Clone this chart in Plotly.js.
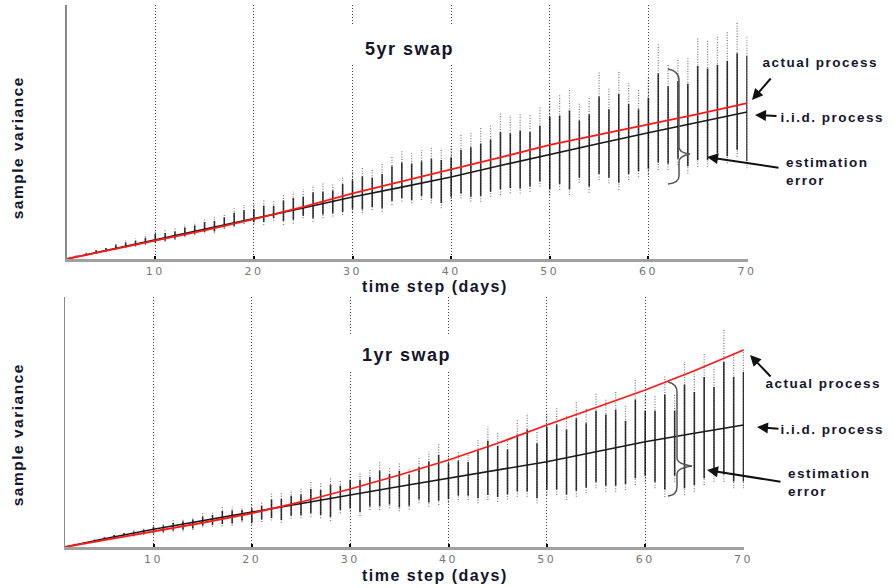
<!DOCTYPE html>
<html>
<head>
<meta charset="utf-8">
<script src="https://cdn.plot.ly/plotly-3.0.1.min.js"></script>
<style>
html,body{margin:0;padding:0;background:#fff;}
#chart{width:893px;height:588px;}
#chart .annotation-text{letter-spacing:1.5px;}
#chart .xtick text, #chart .x2tick text{letter-spacing:2.5px;}
</style>
</head>
<body>
<div id="chart"></div>
<script>
// ---------- DATA ----------
const days = [2,3,4,5,6,7,8,9,10,11,12,13,14,15,16,17,18,19,20,21,22,23,24,25,26,27,28,29,30,31,32,33,34,35,36,37,38,39,40,41,42,43,44,45,46,47,48,49,50,51,52,53,54,55,56,57,58,59,60,61,62,63,64,65,66,67,68,69,70];
const tickDays = [10,20,30,40,50,60,70];
const lineDays = [1,5,10,15,20,25,30,35,40,45,50,55,60,65,70];

// 5yr swap
const iid5 = [0,0.034,0.076,0.118,0.159,0.201,0.244,0.283,0.323,0.368,0.413,0.455,0.497,0.538,0.579];
const act5 = [0,0.032,0.072,0.113,0.157,0.205,0.258,0.305,0.350,0.400,0.449,0.490,0.528,0.570,0.614];
const lo5 = [0.006,0.012,0.020,0.028,0.035,0.042,0.048,0.055,0.062,0.068,0.075,0.086,0.094,0.100,0.101,0.118,0.125,0.138,0.138,0.134,0.152,0.134,0.140,0.160,0.147,0.160,0.167,0.173,0.186,0.180,0.193,0.186,0.213,0.226,0.219,0.232,0.219,0.200,0.226,0.239,0.226,0.225,0.245,0.252,0.259,0.258,0.265,0.285,0.250,0.272,0.252,0.300,0.261,0.311,0.298,0.272,0.311,0.324,0.331,0.350,0.350,0.370,0.337,0.363,0.363,0.390,0.377,0.403,0.357];
const hi5 = [0.016,0.026,0.038,0.048,0.062,0.075,0.081,0.094,0.108,0.114,0.121,0.138,0.147,0.160,0.167,0.180,0.200,0.213,0.215,0.232,0.232,0.252,0.265,0.275,0.291,0.298,0.298,0.324,0.344,0.363,0.350,0.377,0.403,0.429,0.416,0.429,0.442,0.436,0.449,0.488,0.495,0.521,0.528,0.574,0.567,0.574,0.567,0.600,0.640,0.646,0.672,0.613,0.639,0.737,0.672,0.744,0.692,0.665,0.718,0.849,0.770,0.790,0.790,0.869,0.862,0.875,0.895,0.934,0.880];
const coreLo5 = [0.008,0.015,0.023,0.031,0.038,0.045,0.052,0.060,0.066,0.072,0.080,0.091,0.099,0.106,0.108,0.124,0.130,0.145,0.145,0.146,0.160,0.150,0.155,0.170,0.160,0.175,0.180,0.185,0.198,0.195,0.205,0.200,0.228,0.240,0.232,0.248,0.238,0.220,0.245,0.258,0.245,0.248,0.265,0.275,0.280,0.278,0.285,0.305,0.275,0.295,0.275,0.320,0.285,0.335,0.320,0.300,0.335,0.345,0.355,0.380,0.375,0.395,0.365,0.390,0.390,0.415,0.405,0.430,0.385];
const coreHi5 = [0.014,0.023,0.034,0.043,0.055,0.065,0.072,0.084,0.098,0.102,0.108,0.124,0.132,0.146,0.150,0.164,0.182,0.192,0.196,0.210,0.210,0.230,0.240,0.245,0.262,0.265,0.270,0.295,0.310,0.325,0.320,0.335,0.365,0.380,0.375,0.385,0.395,0.390,0.400,0.430,0.440,0.455,0.470,0.500,0.495,0.505,0.500,0.525,0.560,0.565,0.585,0.545,0.570,0.640,0.590,0.650,0.610,0.590,0.635,0.730,0.680,0.700,0.690,0.760,0.750,0.765,0.780,0.810,0.800];

// 1yr swap
const iid1 = [0,0.033,0.071,0.106,0.140,0.174,0.208,0.242,0.275,0.308,0.341,0.381,0.421,0.455,0.488];
const act1 = [0,0.027,0.061,0.097,0.135,0.180,0.232,0.288,0.348,0.415,0.488,0.557,0.628,0.705,0.788];
const lo1 = [0.006,0.011,0.017,0.027,0.034,0.040,0.042,0.048,0.050,0.055,0.061,0.063,0.068,0.079,0.081,0.083,0.085,0.098,0.090,0.100,0.106,0.097,0.113,0.115,0.121,0.115,0.104,0.135,0.141,0.124,0.148,0.148,0.155,0.143,0.150,0.175,0.161,0.168,0.175,0.188,0.188,0.175,0.188,0.181,0.190,0.201,0.201,0.175,0.208,0.208,0.188,0.201,0.215,0.235,0.221,0.221,0.228,0.248,0.261,0.235,0.200,0.261,0.208,0.221,0.248,0.261,0.261,0.235,0.235];
const hi1 = [0.015,0.022,0.031,0.041,0.052,0.061,0.068,0.075,0.088,0.095,0.108,0.115,0.121,0.135,0.141,0.161,0.161,0.161,0.168,0.181,0.215,0.215,0.228,0.235,0.261,0.255,0.281,0.268,0.295,0.295,0.308,0.341,0.321,0.335,0.315,0.355,0.381,0.415,0.368,0.381,0.375,0.428,0.481,0.455,0.435,0.508,0.535,0.461,0.541,0.555,0.528,0.581,0.555,0.615,0.595,0.621,0.568,0.668,0.608,0.608,0.688,0.608,0.741,0.701,0.775,0.721,0.875,0.768,0.795];
const coreLo1 = [0.008,0.013,0.020,0.029,0.036,0.043,0.046,0.052,0.055,0.060,0.066,0.069,0.074,0.085,0.088,0.092,0.094,0.105,0.098,0.110,0.116,0.108,0.125,0.127,0.135,0.128,0.120,0.148,0.155,0.140,0.162,0.163,0.170,0.158,0.165,0.190,0.178,0.185,0.192,0.205,0.205,0.195,0.208,0.200,0.210,0.222,0.222,0.195,0.230,0.230,0.210,0.225,0.238,0.260,0.245,0.245,0.252,0.275,0.285,0.260,0.230,0.285,0.235,0.248,0.275,0.288,0.290,0.262,0.262];
const coreHi1 = [0.013,0.020,0.028,0.038,0.048,0.056,0.062,0.069,0.080,0.086,0.097,0.103,0.110,0.122,0.128,0.144,0.146,0.148,0.154,0.165,0.190,0.192,0.205,0.210,0.232,0.228,0.250,0.245,0.268,0.268,0.280,0.305,0.292,0.305,0.290,0.320,0.342,0.368,0.335,0.345,0.340,0.385,0.425,0.405,0.390,0.450,0.470,0.415,0.480,0.490,0.470,0.515,0.495,0.545,0.530,0.550,0.505,0.590,0.545,0.545,0.610,0.545,0.650,0.620,0.680,0.640,0.740,0.680,0.700];

// ---------- HELPERS ----------
const W = 893, H = 588;
const px = v => v / W;
const py = v => 1 - v / H;

function segs(lo, hi) {
  const x = [], y = [];
  for (let i = 0; i < days.length; i++) {
    x.push(days[i], days[i], null);
    y.push(lo[i], hi[i], null);
  }
  return {x, y};
}

function panelTraces(lo, hi, cLo, cHi, iid, act, xa, ya) {
  const s = segs(lo, hi), c = segs(cLo, cHi);
  return [
    {x: s.x, y: s.y, xaxis: xa, yaxis: ya, mode: 'lines', connectgaps: false, hoverinfo: 'skip',
     line: {color: 'rgba(0,0,0,0.5)', width: 1.3, dash: '1px,1.6px'}},
    {x: c.x, y: c.y, xaxis: xa, yaxis: ya, mode: 'lines', connectgaps: false, hoverinfo: 'skip',
     line: {color: 'rgba(0,0,0,0.78)', width: 1.6}},
    {x: lineDays, y: iid, xaxis: xa, yaxis: ya, mode: 'lines', name: 'i.i.d. process',
     line: {color: '#1a1a1a', width: 1.6}},
    {x: lineDays, y: act, xaxis: xa, yaxis: ya, mode: 'lines', name: 'actual process',
     line: {color: '#ff1a1a', width: 1.8}}
  ];
}

const data = [].concat(
  panelTraces(lo5, hi5, coreLo5, coreHi5, iid5, act5, 'x', 'y'),
  panelTraces(lo1, hi1, coreLo1, coreHi1, iid1, act1, 'x2', 'y2')
);

const xBase = {
  range: [1, 70.05], tickvals: tickDays, ticktext: tickDays.map(String),
  ticks: 'inside', ticklen: 3, tickwidth: 2, tickcolor: '#000',
  showgrid: true, griddash: '1px,2px', gridcolor: '#444', gridwidth: 1,
  showline: true, linecolor: '#a0a0a0', linewidth: 2.5, zeroline: false,
  tickfont: {family: 'DejaVu Sans', size: 11, color: '#777'}, fixedrange: true
};
const yBase = {
  range: [0, 1], showticklabels: false, ticks: '', showgrid: false, zeroline: false,
  showline: true, linecolor: '#8a8a8a', linewidth: 1.5, fixedrange: true
};

const txtFont = {family: 'Liberation Sans, Arial, sans-serif', color: '#15152a'};
function label(text, x, y, size, opts) {
  return Object.assign({text: text, xref: 'paper', yref: 'paper', x: px(x), y: py(y),
    showarrow: false, font: Object.assign({}, txtFont, {size: size}),
    xanchor: 'center', yanchor: 'middle'}, opts || {});
}
function arrow(tipX, tipY, tailX, tailY) {
  return {text: '', xref: 'paper', yref: 'paper', x: px(tipX), y: py(tipY),
    ax: tailX - tipX, ay: tailY - tipY, axref: 'pixel', ayref: 'pixel',
    showarrow: true, arrowhead: 2, arrowsize: 1.1, arrowwidth: 2, arrowcolor: '#111'};
}

const annotations = [
  label('<b>5yr swap</b>', 409, 49, 18),
  label('<b>1yr swap</b>', 406, 355, 18),
  label('<b>time step (days)</b>', 435, 286, 16),
  label('<b>time step (days)</b>', 435, 575, 16),
  label('<b>sample variance</b>', 17, 148, 15.5, {textangle: -90}),
  label('<b>sample variance</b>', 17, 435, 15.5, {textangle: -90}),
  label('<b>actual process</b>', 771, 63, 13.5, {xanchor: 'left'}),
  label('<b>i.i.d. process</b>', 789, 117, 13.5, {xanchor: 'left'}),
  label('<b>estimation<br>error</b>', 784, 171, 13.5, {xanchor: 'left', align: 'left'}),
  label('<b>actual process</b>', 774, 384, 13.5, {xanchor: 'left'}),
  label('<b>i.i.d. process</b>', 789, 429, 13.5, {xanchor: 'left'}),
  label('<b>estimation<br>error</b>', 786, 482, 13.5, {xanchor: 'left', align: 'left'}),
  arrow(752, 100, 772, 77),
  arrow(755, 115, 778, 116),
  arrow(707, 157, 780, 168),
  arrow(750, 355, 772, 378),
  arrow(757, 427, 780, 429),
  arrow(707, 470, 782, 482)
];

function pathPx(cmds) {
  return cmds.map(c => {
    const l = c[0]; const out = [l];
    for (let i = 1; i < c.length; i += 2) out.push(px(c[i]).toFixed(5) + ',' + py(c[i + 1]).toFixed(5));
    return out.join(' ');
  }).join(' ');
}

const shapes = [
  {type: 'rect', xref: 'x', yref: 'y', x0: 29.2, x1: 40.9, y0: 0.768, y1: 0.917,
   fillcolor: '#fff', line: {width: 0}, layer: 'between'},
  {type: 'rect', xref: 'x2', yref: 'y2', x0: 29.4, x1: 41.1, y0: 0.704, y1: 0.848,
   fillcolor: '#fff', line: {width: 0}, layer: 'between'},
  {type: 'path', xref: 'paper', yref: 'paper', line: {color: '#555', width: 1.5},
   path: pathPx([['M', 668, 69], ['Q', 679, 71, 679, 80], ['L', 679, 147], ['Q', 679, 153, 690, 154],
                 ['Q', 679, 156, 679, 162], ['L', 679, 176], ['Q', 679, 183, 668, 184]])},
  {type: 'path', xref: 'paper', yref: 'paper', line: {color: '#555', width: 1.5},
   path: pathPx([['M', 668, 382], ['Q', 677, 384, 677, 392], ['L', 677, 458], ['Q', 677, 464, 692, 466],
                 ['Q', 677, 468, 677, 474], ['L', 677, 487], ['Q', 677, 495, 668, 496]])}
];

const layout = {
  width: W, height: H, margin: {l: 0, r: 0, t: 0, b: 0},
  paper_bgcolor: '#fff', plot_bgcolor: 'rgba(0,0,0,0)', showlegend: false,
  xaxis: Object.assign({}, xBase, {domain: [66.5 / W, 747.5 / W], anchor: 'y'}),
  yaxis: Object.assign({}, yBase, {domain: [1 - 259 / H, 1 - 5 / H], anchor: 'x'}),
  xaxis2: Object.assign({}, xBase, {domain: [65 / W, 744 / W], anchor: 'y2'}),
  yaxis2: Object.assign({}, yBase, {domain: [1 - 547 / H, 1 - 297 / H], anchor: 'x2'}),
  annotations: annotations, shapes: shapes
};

Plotly.newPlot('chart', data, layout, {staticPlot: true, displayModeBar: false});
</script>
</body>
</html>
